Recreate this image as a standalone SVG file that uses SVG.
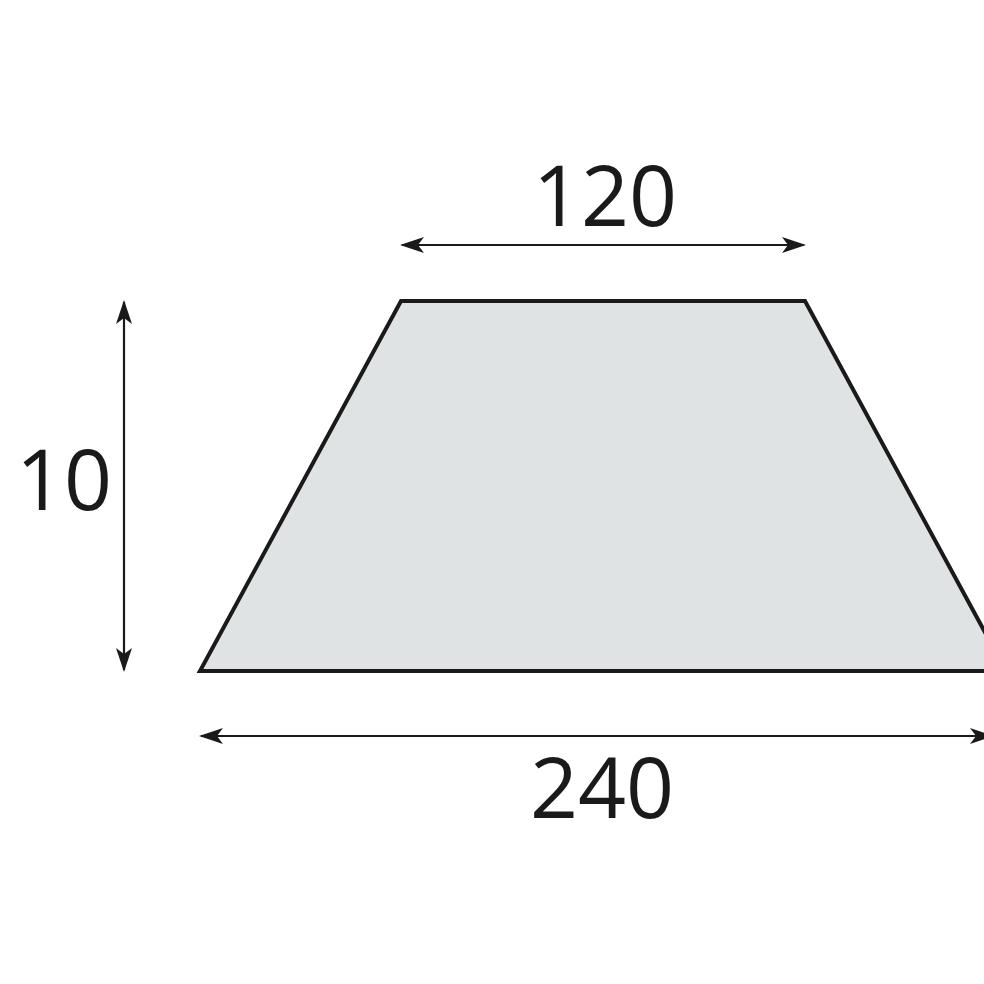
<svg xmlns="http://www.w3.org/2000/svg" width="984" height="984" viewBox="0 0 984 984">
<style>
.dim{stroke:#1a1a1a;stroke-width:2.2;fill:none}
.lbl{font-family:"Open Sans","Noto Sans",sans-serif;font-size:84px;fill:#1a1a1a;text-anchor:middle}
</style>
<defs>
<marker id="ah" viewBox="0 0 24 16" refX="22" refY="8" markerWidth="24" markerHeight="16" markerUnits="userSpaceOnUse" orient="auto-start-reverse">
<path d="M0,0 L24,8 L0,16 L6,8 Z" fill="#1a1a1a"/>
</marker>
</defs>
<rect width="984" height="984" fill="#ffffff"/>
<g id="trapezoid">
<polygon points="401,301 805,301 1006,671 200,671" fill="#dfe3e4" stroke="#1a1a1a" stroke-width="4" stroke-linejoin="miter"/>
</g>
<g id="connectors">
<line class="dim" x1="402" y1="245" x2="804" y2="245" marker-start="url(#ah)" marker-end="url(#ah)"/>
<line class="dim" x1="124" y1="302" x2="124" y2="670" marker-start="url(#ah)" marker-end="url(#ah)"/>
<line class="dim" x1="201" y1="736" x2="992" y2="736" marker-start="url(#ah)" marker-end="url(#ah)"/>
</g>
<g id="label-120"><text class="lbl" x="605" y="226">120</text></g>
<g id="label-10"><text class="lbl" x="64" y="510">10</text></g>
<g id="label-240"><text class="lbl" x="602" y="818">240</text></g>
</svg>
